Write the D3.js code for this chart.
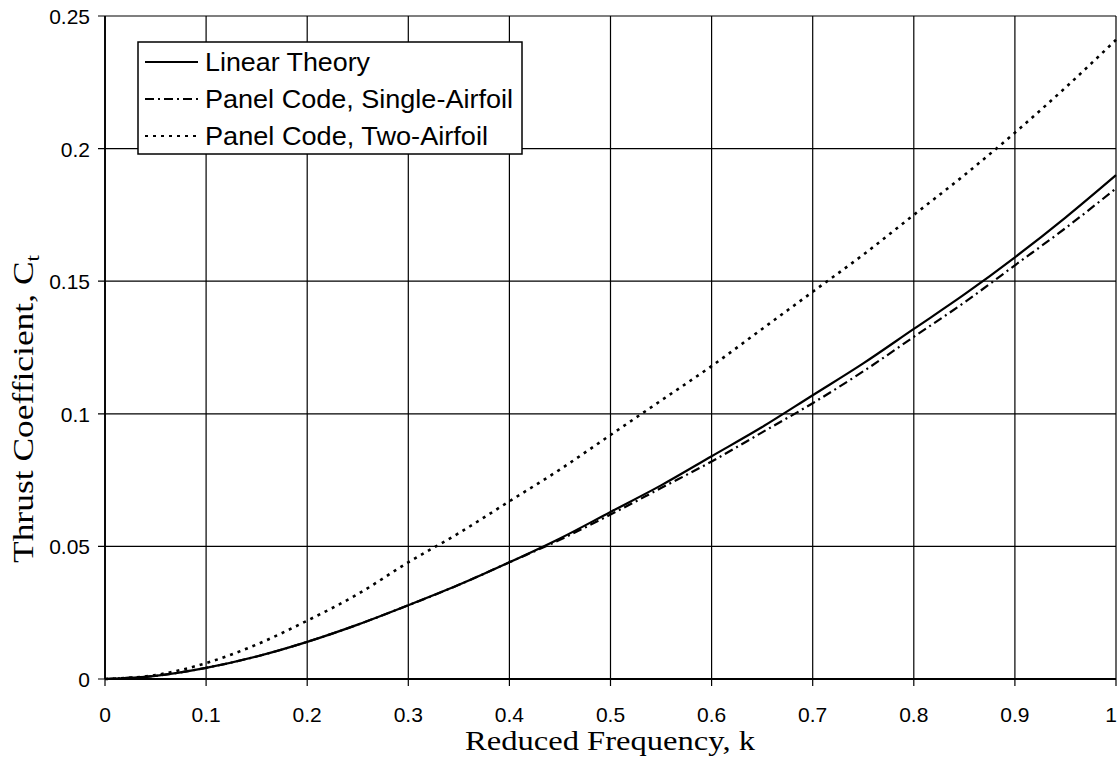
<!DOCTYPE html>
<html><head><meta charset="utf-8">
<script src="https://cdn.jsdelivr.net/npm/d3@7/dist/d3.min.js"></script>
<style>body{margin:0;background:#fff}</style>
</head><body>
<svg id="c" width="1118" height="774"></svg>
<script>
const kValues = [0,0.05,0.1,0.15,0.2,0.25,0.3,0.35,0.4,0.45,0.5,0.55,0.6,0.65,0.7,0.75,0.8,0.85,0.9,0.95,1.0];
const linearTheory = [0,0.0012,0.0042,0.0085,0.014,0.0205,0.0278,0.0355,0.044,0.053,0.063,0.073,0.084,0.095,0.107,0.119,0.132,0.145,0.159,0.174,0.190];
const singleAirfoil = [0,0.0012,0.0042,0.0085,0.014,0.0205,0.0278,0.0355,0.044,0.0525,0.062,0.072,0.082,0.093,0.104,0.116,0.129,0.142,0.156,0.170,0.185];
const twoAirfoil = [0,0.0015,0.006,0.013,0.022,0.032,0.044,0.055,0.067,0.079,0.092,0.105,0.118,0.132,0.146,0.160,0.175,0.190,0.206,0.223,0.241];
const xTicks = [0,0.1,0.2,0.3,0.4,0.5,0.6,0.7,0.8,0.9,1];
const yTicks = [0,0.05,0.1,0.15,0.2,0.25];
const seriesNames = ["Linear Theory","Panel Code, Single-Airfoil","Panel Code, Two-Airfoil"];
const dashes = [null,"9,4,2,4","3,5"];

const svg = d3.select("#c");
const L=105,R=1116,T=16,B=679;
const x = d3.scaleLinear().domain([0,1]).range([L,R]);
const y = d3.scaleLinear().domain([0,0.25]).range([B,T]);
const sans = "Liberation Sans, Arial, sans-serif";
const serif = "Liberation Serif, Times New Roman, serif";

// grid
const g = svg.append("g");
g.selectAll(".vx").data(xTicks).enter().append("line")
 .attr("x1",d=>x(d)).attr("x2",d=>x(d)).attr("y1",T).attr("y2",B+7)
 .attr("stroke","#000").attr("stroke-width",1.2);
g.selectAll(".hy").data(yTicks).enter().append("line")
 .attr("x1",L-7).attr("x2",R).attr("y1",d=>y(d)).attr("y2",d=>y(d))
 .attr("stroke","#000").attr("stroke-width",1.2);
g.append("line").attr("x1",L).attr("x2",L).attr("y1",T).attr("y2",B).attr("stroke","#000").attr("stroke-width",1.8);
g.append("line").attr("x1",L).attr("x2",R).attr("y1",B).attr("y2",B).attr("stroke","#000").attr("stroke-width",1.8);

// tick labels
svg.selectAll(".xl").data(xTicks).enter().append("text")
 .attr("x",d=>d===1?1117:x(d)).attr("y",B+43)
 .attr("text-anchor",d=>d===1?"end":"middle")
 .attr("font-family",sans).attr("font-size",21)
 .text(d=>d3.format("")(d));
svg.selectAll(".yl").data(yTicks).enter().append("text")
 .attr("x",L-15).attr("y",d=>y(d)+8).attr("text-anchor","end")
 .attr("font-family",sans).attr("font-size",21)
 .text(d=>d3.format("")(d));

// axis titles
svg.append("text").attr("x",610).attr("y",750).attr("text-anchor","middle")
 .attr("font-family",serif).attr("font-size",28)
 .attr("textLength",290).attr("lengthAdjust","spacingAndGlyphs")
 .text("Reduced Frequency, k");
const yt = svg.append("text").attr("transform","translate(33,563) rotate(-90)")
 .attr("text-anchor","start")
 .attr("font-family",serif).attr("font-size",29)
 .attr("textLength",308).attr("lengthAdjust","spacingAndGlyphs");
yt.append("tspan").text("Thrust Coefficient, C");
yt.append("tspan").attr("font-size",19).attr("dy",6).text("t");

// lines
const allSeries = [linearTheory,singleAirfoil,twoAirfoil];
const line = d3.line().x((d,i)=>x(kValues[i])).y(d=>y(d)).curve(d3.curveMonotoneX);
allSeries.forEach((s,i)=>{
  svg.append("path").datum(s).attr("d",line).attr("fill","none")
   .attr("stroke","#000").attr("stroke-width",i==2?2.6:2.2)
   .attr("stroke-dasharray",dashes[i]);
});

// legend
const lg = svg.append("g");
lg.append("rect").attr("x",138).attr("y",42).attr("width",384).attr("height",112)
 .attr("fill","#fff").attr("stroke","#000").attr("stroke-width",1.5);
const legendWidths = [165,308,283];
seriesNames.forEach((n,i)=>{
  const yy = 62+i*37;
  lg.append("line").attr("x1",145).attr("x2",198).attr("y1",yy).attr("y2",yy)
   .attr("stroke","#000").attr("stroke-width",i==2?2.2:1.8).attr("stroke-dasharray",dashes[i]);
  lg.append("text").attr("x",205).attr("y",yy+9)
   .attr("font-family",sans).attr("font-size",25)
   .attr("textLength",legendWidths[i]).attr("lengthAdjust","spacingAndGlyphs").text(n);
});
</script>
</body></html>
